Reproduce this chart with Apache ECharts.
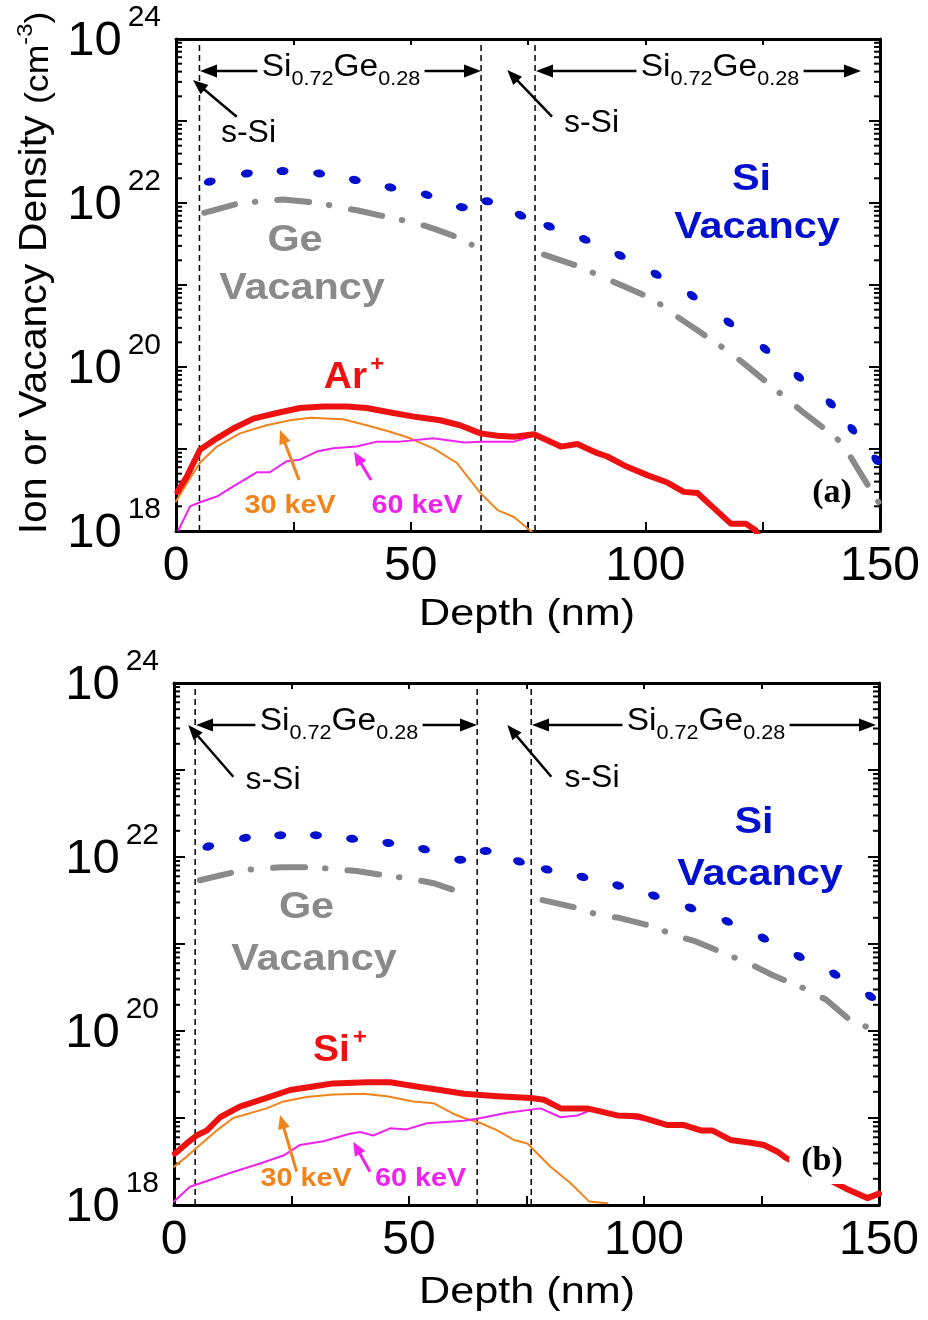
<!DOCTYPE html>
<html><head><meta charset="utf-8">
<script src="https://cdn.jsdelivr.net/npm/echarts@6/dist/echarts.min.js"></script>
<style>html,body{margin:0;padding:0;background:#fff}#c{width:928px;height:1320px}</style>
</head><body><div id="c"></div>
<script>
// ---------------- data ----------------
const xTickLabels = [0, 50, 100, 150];
const yTickExponents = [18, 20, 22, 24];

const layerBoundsA = [5, 65, 76.5];
const layerBoundsB = [4.5, 64.5, 76];

// panel (a)
const siVacA_depth = [7.2,15.1,22.7,30.5,38.1,45.7,53.4,60.9,66.3,73.4,79.5,87.1,94.6,102.3,110.0,117.8,125.5,132.7,139.5,144.1,149.2];
const siVacA = [1.82e22,2.29e22,2.45e22,2.29e22,1.91e22,1.55e22,1.26e22,8.9e21,1.05e22,7.1e21,5.2e21,3.6e21,2.3e21,1.35e21,7.4e20,3.5e20,1.66e20,7.6e19,3.6e19,1.74e19,7.4e18];
const geVacA_depth = [6.0,13.6,18.5,22.8,30.7,34.5,38.8,46.2,50.9,55.2,59.0,61.4,63.0,70,78.4,86.2,90.3,94.8,101.9,106.8,111.1,118.2,122.8,127.4,133.8,138.1,142.0,145.9,148.0,149.8];
const geVacA = [7.6e21,1.0e22,1.05e22,1.1e22,1.0e22,8.9e21,8.1e21,6.5e21,5.75e21,4.8e21,4.0e21,3.55e21,3.1e21,null,2.35e21,1.66e21,1.29e21,1.0e21,6.6e20,4.1e20,2.8e20,1.48e20,9.1e19,5.5e19,2.75e19,1.78e19,1.17e19,5.0e18,3.2e18,2.2e18];
const arA_depth = [0.3,2.3,5.1,8.7,12.2,16.5,21.5,26.4,31.4,36.4,40.6,46.3,51.3,56.3,60.5,64.9,68.5,72.0,76.3,82.0,85.5,89.8,91.9,95.5,100.4,104.7,108.2,111.1,114.6,118.2,121.4,123.5,125.0];
const arA = [3.0e18,4.6e18,9.8e18,1.35e19,1.78e19,2.35e19,2.75e19,3.16e19,3.3e19,3.3e19,3.16e19,2.75e19,2.45e19,2.24e19,1.95e19,1.55e19,1.45e19,1.41e19,1.51e19,1.07e19,1.15e19,8.9e18,8.1e18,6.3e18,4.8e18,3.9e18,3.0e18,2.9e18,1.9e18,1.23e18,1.23e18,1.02e18,7e17];
const thirtyA_depth = [0,2.3,5.1,8.7,13.6,19.3,24.3,28.6,35.6,40.6,45.6,49.9,54.8,59.8,61.4,64.9,68.5,72.0,75.6,76.5];
const thirtyA = [2.3e18,3.8e18,6.8e18,1.07e19,1.55e19,1.95e19,2.24e19,2.4e19,2.3e19,1.95e19,1.62e19,1.35e19,1.02e19,6.8e18,5.2e18,2.9e18,1.8e18,1.48e18,1.0e18,9e17];
const sixtyA_depth = [0.5,3.0,5.1,8.7,12.2,17.2,20.0,23.6,26.4,30.0,33.5,38.5,42.8,47.7,54.8,61.4,64.9,72.0,75.6];
const sixtyA = [1.02e18,2.0e18,2.24e18,2.63e18,3.5e18,5.2e18,5.2e18,7.1e18,7.4e18,9.3e18,1.02e19,1.07e19,1.23e19,1.23e19,1.35e19,1.2e19,1.23e19,1.23e19,1.41e19];

// panel (b)
const siVacB_depth = [7.3,15.1,22.6,30.2,37.9,45.6,53.2,60.9,66.3,73.4,79.3,86.9,94.5,102.1,109.9,117.7,125.4,133.0,140.6,148.2];
const siVacB = [1.32e22,1.66e22,1.78e22,1.78e22,1.62e22,1.45e22,1.23e22,9.3e21,1.17e22,8.9e21,7.2e21,5.9e21,4.7e21,3.6e21,2.6e21,1.82e21,1.17e21,7.2e20,4.5e20,2.5e20];
const geVacB_depth = [5.5,13.7,18.3,22.9,30.0,34.6,38.9,46.3,50.6,55.2,61.7,62.9,70,78.4,85.8,90.4,94.7,102.1,106.4,111.0,118.1,122.3,127.3,134.0,138.7,143.3,149.6];
const geVacB = [5.4e21,6.9e21,7.4e21,7.6e21,7.6e21,7.2e21,6.9e21,6.0e21,5.6e21,5.0e21,3.8e21,3.55e21,null,3.2e21,2.6e21,2.14e21,2.0e21,1.58e21,1.26e21,1.07e21,7.4e20,6.0e20,4.4e20,3.1e20,2.3e20,1.41e20,9.8e19];
const siB_depth = [0.2,2.7,4.8,7.0,9.8,14.0,19.7,24.7,29.6,33.9,41.0,46.0,51.6,56.6,61.7,68.8,75.9,78.7,82.3,87.9,94.3,98.6,105.0,108.5,112.1,114.5,118.4,122.7,125.5,128.4,130.1,136.5,142.9,147.5,150];
const siB = [3.9e18,5.1e18,6.3e18,7.2e18,1.02e19,1.35e19,1.7e19,2.1e19,2.3e19,2.5e19,2.57e19,2.57e19,2.3e19,2.1e19,1.9e19,1.78e19,1.7e19,1.62e19,1.29e19,1.29e19,1.07e19,1.05e19,8.3e18,8.3e18,7.2e18,7.2e18,5.6e18,5.2e18,4.9e18,4.1e18,3.5e18,2.35e18,1.55e18,1.2e18,1.35e18];
const thirtyB_depth = [0,2.7,5.5,9.1,12.6,19.7,23.3,28.2,33.9,40.3,45.3,50.9,55.2,59.4,61.7,65.3,68.8,72.3,75.2,80.1,84.4,88.3,92.2];
const thirtyB = [2.75e18,3.6e18,4.9e18,7.2e18,1.0e19,1.29e19,1.55e19,1.74e19,1.86e19,1.9e19,1.78e19,1.55e19,1.48e19,1.12e19,1.0e19,8.7e18,7.2e18,5.6e18,5.1e18,2.75e18,1.78e18,1.1e18,1.05e18];
const sixtyB_depth = [0,3.4,8.4,12.6,18.3,23.3,26.8,31.8,37.4,39.6,42.4,46.0,49.5,53.8,61.7,65.3,70.9,78.0,82.3,85.8,88.7,95.0,100];
const sixtyB = [1.1e18,1.62e18,2.0e18,2.4e18,3.0e18,3.7e18,4.9e18,5.4e18,6.6e18,6.9e18,6.3e18,7.6e18,7.4e18,8.7e18,9.3e18,1.0e19,1.15e19,1.29e19,1.02e19,1.07e19,1.23e19,1.05e19,9.5e18];

// ---------------- styling ----------------
const SANS = "'Liberation Sans', Arial, sans-serif";
const SERIF = "'Liberation Serif', 'Times New Roman', serif";
const C_BLUE = '#0010cc', C_GREY = '#8a8a8a', C_RED = '#ee1111', C_ORANGE = '#f0841c', C_MAG = '#ee22ee';
const Y_MIN = 1e18, Y_MAX = 1e24;

const pairs = (xs, ys) => xs.map((x, i) => [x, ys[i] == null ? '-' : ys[i]]);

const minorTickVals = [];
for (let n = 18; n < 24; n++) for (let k = 2; k <= 9; k++) minorTickVals.push([0, k * Math.pow(10, n)]);

function xAxes(g) {
  const common = {
    gridIndex: g, type: 'value', min: 0, max: 150, interval: 25,
    axisLine: { show: true, onZero: false, lineStyle: { color: '#000', width: 3 } },
    splitLine: { show: false }
  };
  return [
    Object.assign({}, common, {
      position: 'bottom',
      axisTick: { show: true, inside: true, length: 9, lineStyle: { color: '#000', width: 2 } },
      axisLabel: { show: true, margin: 12, fontSize: 48, fontFamily: SANS, color: '#000',
        formatter: v => xTickLabels.includes(v) ? String(v) : '' }
    }),
    Object.assign({}, common, {
      position: 'top',
      axisTick: { show: true, inside: true, length: 6, lineStyle: { color: '#000', width: 2 } },
      axisLabel: { show: false }
    })
  ];
}
function yAxes(g) {
  const common = {
    gridIndex: g, type: 'log', logBase: 10, min: Y_MIN, max: Y_MAX,
    axisLine: { show: true, onZero: false, lineStyle: { color: '#000', width: 3 } },
    axisTick: { show: true, inside: true, length: 11, lineStyle: { color: '#000', width: 2 } },
    splitLine: { show: false }, minorTick: { show: false }
  };
  return [
    Object.assign({}, common, {
      position: 'left',
      axisLabel: {
        show: true, margin: 15, color: '#000',
        formatter: v => { const e = Math.round(Math.log10(v)); return yTickExponents.includes(e) ? '{b|10}{s|' + e + '}' : ''; },
        rich: {
          b: { fontSize: 49, fontFamily: SANS, color: '#000', lineHeight: 72, verticalAlign: 'middle', padding: [4, 0, 0, 0] },
          s: { fontSize: 30, fontFamily: SANS, color: '#000', lineHeight: 30, verticalAlign: 'top', padding: [0, 0, 0, 6] }
        }
      }
    }),
    Object.assign({}, common, { position: 'right', axisLabel: { show: false } })
  ];
}

function boundarySeries(bounds, p) {
  return bounds.map(b => ({
    type: 'line', xAxisIndex: 2 * p, yAxisIndex: 2 * p, data: [[b, Y_MIN], [b, Y_MAX]],
    symbol: 'none', silent: true, z: 1,
    lineStyle: { color: '#000', width: 1.5, type: [6, 4] }
  }));
}
function minorTickSeries(p) {
  return {
    type: 'custom', xAxisIndex: 2 * p, yAxisIndex: 2 * p, data: minorTickVals, silent: true, z: 3, clip: false,
    encode: { x: 0, y: 1 },
    renderItem: (params, api) => {
      const cs = params.coordSys;
      const y = api.coord([0, api.value(1)])[1];
      const st = { stroke: '#000', lineWidth: 2 };
      return { type: 'group', children: [
        { type: 'line', shape: { x1: cs.x, y1: y, x2: cs.x + 6, y2: y }, style: st },
        { type: 'line', shape: { x1: cs.x + cs.width - 6, y1: y, x2: cs.x + cs.width, y2: y }, style: st }
      ]};
    }
  };
}
function lineSeries(xs, ys, p, color, width, extra) {
  return Object.assign({
    type: 'line', xAxisIndex: 2 * p, yAxisIndex: 2 * p, data: pairs(xs, ys),
    symbol: 'none', showSymbol: false, connectNulls: false, clip: true, silent: true, z: 4,
    lineStyle: { color: color, width: width, cap: 'round', join: 'round' }
  }, extra || {});
}
const ELLIPSE = 'path://M0,5A5,5 0 1,1 10,5A5,5 0 1,1 0,5Z';
function dotSeries(id, xs, ys, p) {
  return {
    id: id, type: 'scatter', xAxisIndex: 2 * p, yAxisIndex: 2 * p, data: pairs(xs, ys),
    symbol: ELLIPSE, symbolSize: [12, 8], itemStyle: { color: C_BLUE, opacity: 1 }, silent: true, z: 5, clip: true
  };
}
const geDash = { type: [32, 20, 0.5, 22], cap: 'round' };

const series = [].concat(
  boundarySeries(layerBoundsA, 0), boundarySeries(layerBoundsB, 1),
  [minorTickSeries(0), minorTickSeries(1)],
  [
    lineSeries(geVacA_depth, geVacA, 0, C_GREY, 6, { lineStyle: Object.assign({ color: C_GREY, width: 6 }, geDash) }),
    dotSeries('siA', siVacA_depth, siVacA, 0),
    lineSeries(thirtyA_depth, thirtyA, 0, C_ORANGE, 2),
    lineSeries(sixtyA_depth, sixtyA, 0, C_MAG, 2),
    lineSeries(arA_depth, arA, 0, C_RED, 6),
    lineSeries(geVacB_depth, geVacB, 1, C_GREY, 6, { lineStyle: Object.assign({ color: C_GREY, width: 6 }, geDash) }),
    dotSeries('siB', siVacB_depth, siVacB, 1),
    lineSeries(thirtyB_depth, thirtyB, 1, C_ORANGE, 2),
    lineSeries(sixtyB_depth, sixtyB, 1, C_MAG, 2),
    lineSeries(siB_depth, siB, 1, C_RED, 6)
  ]
);

// ---------------- annotations ----------------
function head(tx, ty, fx, fy, len, wid, color) {
  const d = Math.hypot(tx - fx, ty - fy), ux = (tx - fx) / d, uy = (ty - fy) / d;
  const bx = tx - ux * len, by = ty - uy * len;
  return { type: 'polygon', z: 60, silent: true,
    shape: { points: [[tx, ty], [bx - uy * wid / 2, by + ux * wid / 2], [bx + uy * wid / 2, by - ux * wid / 2]] },
    style: { fill: color } };
}
function arrow(fx, fy, tx, ty, color, lw, len, wid) {
  const d = Math.hypot(tx - fx, ty - fy), ux = (tx - fx) / d, uy = (ty - fy) / d;
  return [
    { type: 'line', z: 60, silent: true, shape: { x1: fx, y1: fy, x2: tx - ux * len * 0.8, y2: ty - uy * len * 0.8 },
      style: { stroke: color, lineWidth: lw } },
    head(tx, ty, fx, fy, len, wid, color)
  ];
}
function dblArrow(x1, x2, y) {
  return [
    { type: 'line', z: 60, silent: true, shape: { x1: x1 + 12, y1: y, x2: x2 - 12, y2: y }, style: { stroke: '#000', lineWidth: 2.5 } },
    head(x1, y, x2, y, 17, 13, '#000'), head(x2, y, x1, y, 17, 13, '#000')
  ];
}
function txt(x, y, text, o) {
  o = o || {};
  return { type: 'text', x: x, y: y, z: 70, silent: true, scaleX: o.scaleX || 1, rotation: o.rotation || 0,
    style: Object.assign({ text: text, fontSize: o.fontSize || 32, fontFamily: o.fontFamily || SANS,
      fontWeight: o.fontWeight || 'normal', fill: o.fill || '#000',
      align: 'center', verticalAlign: 'middle', textAlign: 'center', textVerticalAlign: 'middle' }, o.style || {}) };
}
const sigeRich = {
  m: { fontSize: 31, fontFamily: SANS, lineHeight: 44, verticalAlign: 'middle', fill: '#000', color: '#000' },
  s: { fontSize: 20, fontFamily: SANS, lineHeight: 20, verticalAlign: 'bottom', fill: '#000', color: '#000' }
};
const SIGE = '{m|Si}{s|0.72}{m|Ge}{s|0.28}';
function sige(x, y) {
  return txt(x, y, SIGE, { scaleX: 1.08, style: { rich: sigeRich, backgroundColor: '#fff', padding: [0, 4] } });
}
const bold = (fill, size) => ({ fill: fill, fontWeight: 'bold', fontSize: size || 36, scaleX: 1.15 });
const supRich = (fill) => ({
  a: { fontSize: 36, fontWeight: 'bold', fontFamily: SANS, lineHeight: 48, verticalAlign: 'middle', fill: fill, color: fill },
  p: { fontSize: 22, fontWeight: 'bold', fontFamily: SANS, lineHeight: 22, verticalAlign: 'top', fill: fill, color: fill, padding: [0, 0, 0, 3] }
});

const graphics = [].concat(
  // y-axis title
  [txt(35, 273, '{a|Ion or Vacancy Density }{b|(cm}{c|-3}{b|)}', { rotation: Math.PI / 2, scaleX: 1.08, style: { rich: {
    a: { fontSize: 38, fontFamily: SANS, lineHeight: 40, verticalAlign: 'bottom', fill: '#000', color: '#000' },
    b: { fontSize: 33, fontFamily: SANS, lineHeight: 35, verticalAlign: 'bottom', fill: '#000', color: '#000' },
    c: { fontSize: 22, fontFamily: SANS, lineHeight: 22, verticalAlign: 'top', fill: '#000', color: '#000' } } } })],
  // x-axis titles
  [txt(527, 615, 'Depth (nm)', { fontSize: 36, scaleX: 1.2 }), txt(527, 1293, 'Depth (nm)', { fontSize: 36, scaleX: 1.2 })],
  // panel (a)
  dblArrow(200, 481, 71), [sige(341, 67)],
  dblArrow(536, 861, 71), [sige(720, 67)],
  arrow(236.7, 116.7, 193, 80, '#000', 2.5, 15, 12), [txt(248.5, 133, 's-Si', { fontSize: 32 })],
  arrow(552, 116.7, 507.3, 70, '#000', 2.5, 15, 12), [txt(591.5, 123, 's-Si', { fontSize: 32 })],
  [txt(751.5, 180, 'Si', bold(C_BLUE)), txt(757, 228, 'Vacancy', bold(C_BLUE)),
   txt(295, 241, 'Ge', bold(C_GREY)), txt(302, 289, 'Vacancy', bold(C_GREY)),
   txt(354, 378, '{a|Ar}{p|+}', { scaleX: 1.08, style: { rich: supRich(C_RED) } }),
   txt(290, 506, '30 keV', bold(C_ORANGE, 25)), txt(417, 506, '60 keV', bold(C_MAG, 25))],
  arrow(299, 480, 280, 430, C_ORANGE, 3, 14, 12), arrow(371, 480, 354, 451.7, C_MAG, 3, 14, 12),
  [txt(832, 493, '(a)', { fontFamily: SERIF, fontWeight: 'bold', fontSize: 34 })],
  // panel (b)
  dblArrow(196, 477, 725), [sige(339, 721)],
  dblArrow(532, 876, 725), [sige(706, 721)],
  arrow(233.3, 776.7, 188.3, 725, '#000', 2.5, 15, 12), [txt(273, 780, 's-Si', { fontSize: 32 })],
  arrow(551.3, 776.7, 507.3, 725, '#000', 2.5, 15, 12), [txt(592, 778, 's-Si', { fontSize: 32 })],
  [txt(754, 823, 'Si', bold(C_BLUE)), txt(760, 875, 'Vacancy', bold(C_BLUE)),
   txt(306.5, 908, 'Ge', bold(C_GREY)), txt(314, 960, 'Vacancy', bold(C_GREY)),
   txt(340, 1051, '{a|Si}{p|+}', { scaleX: 1.08, style: { rich: supRich(C_RED) } }),
   txt(306, 1179, '30 keV', bold(C_ORANGE, 25)), txt(420.5, 1179, '60 keV', bold(C_MAG, 25))],
  arrow(296.7, 1171.7, 280, 1115, C_ORANGE, 3, 14, 12), arrow(370, 1171.7, 353.3, 1141.7, C_MAG, 3, 14, 12),
  [txt(822, 1161, '(b)', { fontFamily: SERIF, fontWeight: 'bold', fontSize: 34, style: { backgroundColor: '#fff', padding: [6, 12] } })]
);

const chart = echarts.init(document.getElementById('c'), null, { renderer: 'canvas' });
const option = {
  animation: false,
  backgroundColor: '#fff',
  grid: [
    { left: 176, top: 39, width: 704, height: 492, containLabel: false, outerBoundsMode: 'none' },
    { left: 174, top: 683, width: 705, height: 522, containLabel: false, outerBoundsMode: 'none' }
  ],
  xAxis: [].concat(xAxes(0), xAxes(1)),
  yAxis: [].concat(yAxes(0), yAxes(1)),
  series: series,
  graphic: { elements: graphics }
};
chart.setOption(option);

// orient the elongated vacancy dots along their curve
function rotated(xs, ys, g) {
  const pts = xs.map((x, i) => chart.convertToPixel({ gridIndex: g }, [x, ys[i]]));
  return xs.map((x, i) => {
    const a = pts[Math.max(0, i - 1)], b = pts[Math.min(xs.length - 1, i + 1)];
    const ang = Math.atan2(b[1] - a[1], b[0] - a[0]);
    return { value: [x, ys[i]], symbolRotate: -ang * 180 / Math.PI };
  });
}
chart.setOption({ series: [
  { id: 'siA', data: rotated(siVacA_depth, siVacA, 0) },
  { id: 'siB', data: rotated(siVacB_depth, siVacB, 1) }
] });
</script></body></html>
